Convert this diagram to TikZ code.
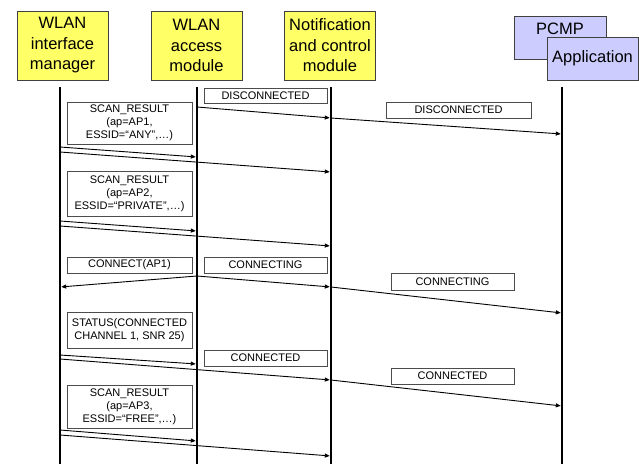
\documentclass[tikz,border=0pt]{standalone}
\usepackage{fontspec}
\setmainfont{Liberation Sans}
\usetikzlibrary{arrows.meta}

\definecolor{modyellow}{HTML}{FFFF66}
\definecolor{applilac}{HTML}{CCCCFF}

\tikzset{
  module/.style={draw=black!75, line width=0.8pt, fill=modyellow, align=center,
    inner sep=0pt, minimum width=91pt, minimum height=69pt,
    font=\fontsize{16.5}{20.5}\selectfont},
  appbox/.style={module, fill=applilac, minimum height=43pt},
  msgbox/.style={draw=black!70, line width=0.7pt, align=center, inner sep=0pt,
    font=\fontsize{11}{13}\selectfont},
  lifeline/.style={line width=2.5pt},
  msg/.style={line width=0.9pt, -{Triangle[length=5pt,width=4pt]}, shorten >=1.2pt},
}

\begin{document}
\begin{tikzpicture}[x=1pt,y=-1pt]
	\useasboundingbox (0,0) rectangle (639,464);

	%% modules on top
	\node[module] (wim) at (62.5,45.5) {WLAN\\interface\\manager};
	\node[module] (wam) at (196.5,45.5) {WLAN\\access\\module};
	\node[module] (ncm) at (330,45.5) {Notification\\and control\\module};
	\node[appbox, minimum width=92pt] (pcmp) at (560,37.5) {};
	\node[font=\fontsize{16.5}{20.5}\selectfont] (pcmptxt) at (560,28.5) {PCMP};
	\node[appbox] (app) at (592.5,58.5) {Application};

	%% lifelines
	\foreach \n/\x in {1/60,2/197,3/331,4/562} {
		\coordinate (top\n) at (\x,87);
		\coordinate (bot\n) at (\x,464);
		\draw[lifeline] (top\n) -- (bot\n);
	}

	%% messages: start (..0) and end (..1) on the lifelines
	\foreach \m/\xa/\ya/\xb/\yb in {
		a/197/107/331/118, b/331/118/562/134,
		c/60/147/197/157, d/60/152/331/172,
		e/60/221/197/231, f/60/226/331/246,
		g/197/276/60/287, h/197/276/331/287, i/331/287/562/313,
		j/60/355/197/364, k/60/359/331/380, l/331/380/562/406,
		m/60/430/197/441, n/60/435/331/456} {
		\coordinate (\m0) at (\xa,\ya);
		\coordinate (\m1) at (\xb,\yb);
		\draw[msg] (\m0) -- (\m1);
	}

	%% message labels
	\node[msgbox, minimum width=123pt, minimum height=15pt] (disc1) at (265.5,95.5) {DISCONNECTED};
	\node[msgbox, minimum width=145pt, minimum height=16pt] (disc2) at (458.5,110) {DISCONNECTED};
	\node[msgbox, minimum width=125pt, minimum height=42pt] (scan1) at (129.5,123)
		{SCAN\_RESULT\\(ap=AP1,\\ESSID=“ANY”,…)};
	\node[msgbox, minimum width=125pt, minimum height=45pt] (scan2) at (129.5,193.5)
		{SCAN\_RESULT\\(ap=AP2,\\ESSID=“PRIVATE”,…)};
	\node[msgbox, minimum width=125pt, minimum height=16pt] (connap) at (129.5,265) {CONNECT(AP1)};
	\node[msgbox, minimum width=123pt, minimum height=16pt] (cting1) at (265.5,265) {CONNECTING};
	\node[msgbox, minimum width=123pt, minimum height=17pt] (cting2) at (452.5,281.5) {CONNECTING};
	\node[msgbox, minimum width=125pt, minimum height=36pt] (status) at (129.5,330)
		{STATUS(CONNECTED\\CHANNEL 1, SNR 25)};
	\node[msgbox, minimum width=123pt, minimum height=16pt] (cted1) at (265.5,358) {CONNECTED};
	\node[msgbox, minimum width=123pt, minimum height=16pt] (cted2) at (452.5,376) {CONNECTED};
	\node[msgbox, minimum width=125pt, minimum height=43pt] (scan3) at (129.5,406.5)
		{SCAN\_RESULT\\(ap=AP3,\\ESSID=“FREE”,…)};
\end{tikzpicture}
\end{document}
